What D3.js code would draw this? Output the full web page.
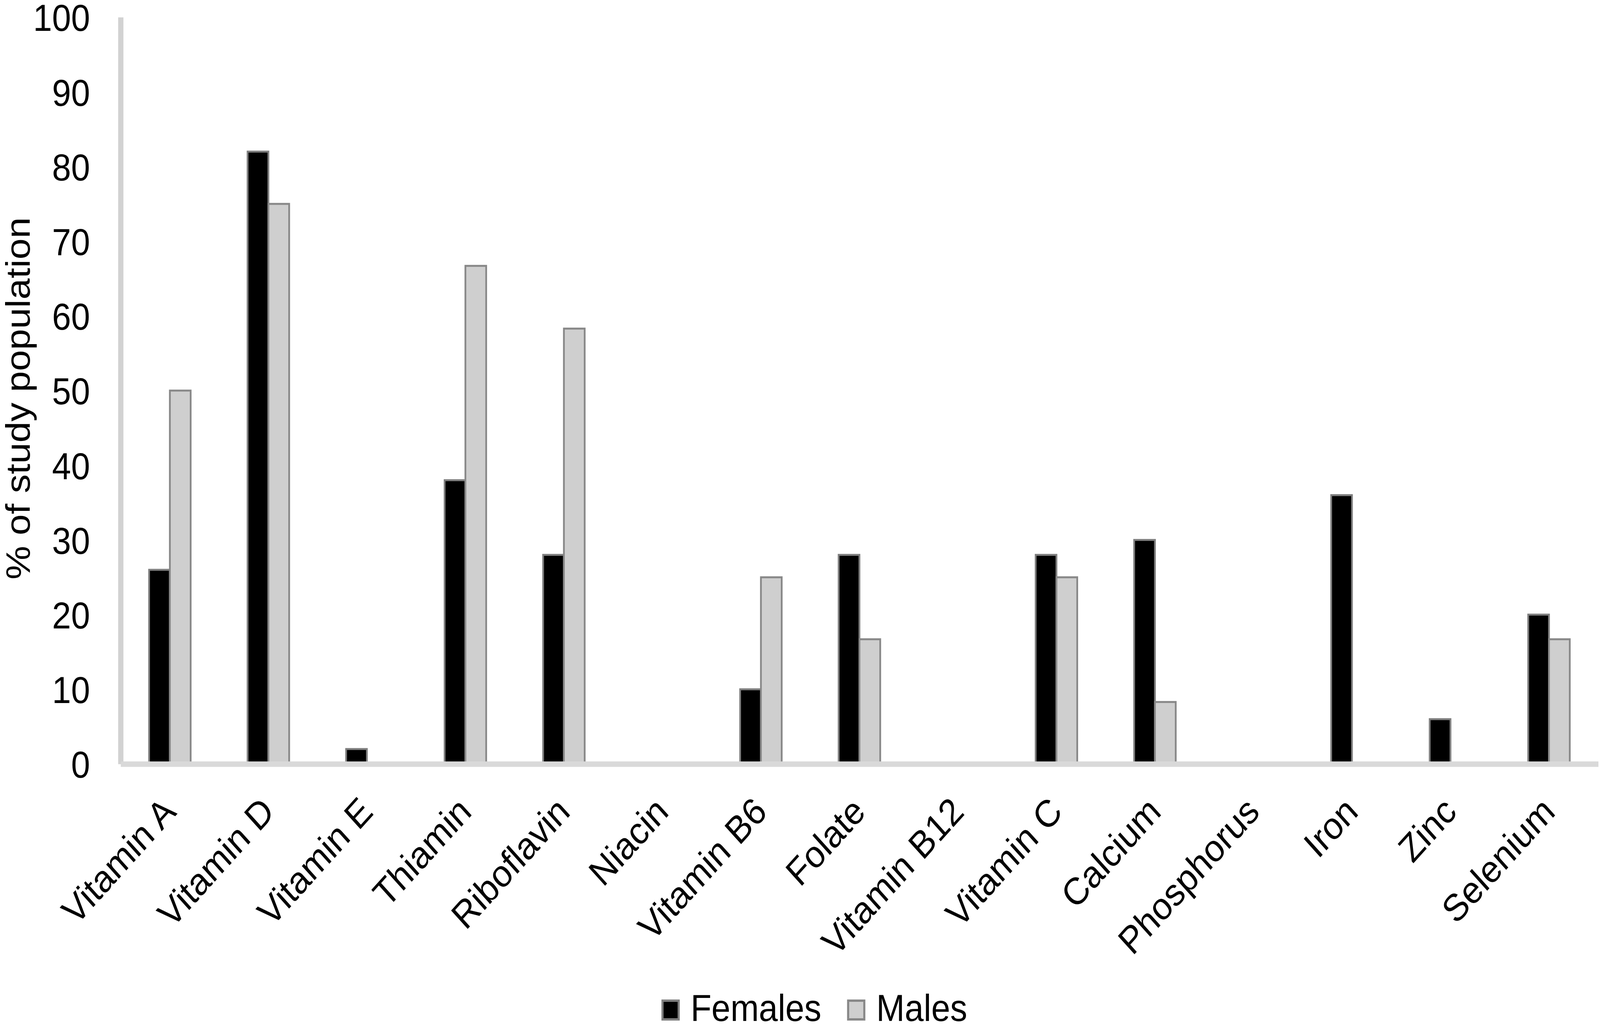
<!DOCTYPE html>
<html>
<head>
<meta charset="utf-8">
<script src="https://cdn.jsdelivr.net/npm/d3@7"></script>
<style>
  html, body { margin: 0; padding: 0; background: #fff; overflow: hidden; }
  #chart svg { display: block; width: 100vw; height: 100vh; }
  text { font-family: "Liberation Sans", Arial, sans-serif; fill: #000; }
</style>
</head>
<body>
<div id="chart"></div>
<script>
// Data
const nutrients = [
  "Vitamin A", "Vitamin D", "Vitamin E", "Thiamin", "Riboflavin", "Niacin",
  "Vitamin B6", "Folate", "Vitamin B12", "Vitamin C", "Calcium", "Phosphorus",
  "Iron", "Zinc", "Selenium"
];
const females = [26, 82, 2, 38, 28, 0, 10, 28, 0, 28, 30, 0, 36, 6, 20];
const males = [50, 75, 0, 66.7, 58.3, 0, 25, 16.7, 0, 25, 8.3, 0, 0, 0, 16.7];
const seriesNames = ["Females", "Males"];
const yTicks = [0, 10, 20, 30, 40, 50, 60, 70, 80, 90, 100];

const width = 4550;
const height = 2632;
const plotLeft = 343, plotRight = 4545, plotTop = 44, plotBottom = 1956;
const fontSize = 97;

const fills = { Females: "#000000", Males: "#cfcfcf" };
const strokes = { Females: "#7f7f7f", Males: "#888888" };

// viewBox so the whole chart fits whatever the viewport is
const svg = d3.select("#chart").append("svg")
  .attr("viewBox", `0 0 ${width} ${height}`)
  .attr("preserveAspectRatio", "none");

const x0 = d3.scaleBand()
  .domain(nutrients)
  .range([plotLeft, plotRight])
  .paddingInner(0.578)
  .paddingOuter(0.289);

const x1 = d3.scaleBand()
  .domain(seriesNames)
  .range([0, x0.bandwidth()]);

const y = d3.scaleLinear().domain([0, 100]).range([plotBottom, plotTop]);

// rows for the bars
const rows = nutrients.map((n, i) => ({ name: n, Females: females[i], Males: males[i] }));

const groups = svg.append("g").selectAll("g")
  .data(rows)
  .join("g")
  .attr("transform", (d) => `translate(${x0(d.name)},0)`);

groups.selectAll("rect")
  .data((d) => seriesNames.map((s) => ({ key: s, value: d[s] })).filter((d) => d.value > 0))
  .join("rect")
  .attr("x", (d) => x1(d.key))
  .attr("y", (d) => y(d.value))
  .attr("width", x1.bandwidth())
  .attr("height", (d) => y(0) - y(d.value))
  .attr("fill", (d) => fills[d.key])
  .attr("stroke", (d) => strokes[d.key])
  .attr("stroke-width", 5);

// Y axis
const yAxis = svg.append("g")
  .attr("transform", `translate(${plotLeft},0)`)
  .call(d3.axisLeft(y).tickValues(yTicks).tickSize(0).tickSizeOuter(0).tickPadding(87));
yAxis.select(".domain").attr("stroke", "#d2d2d2").attr("stroke-width", 15);
yAxis.selectAll("text")
  .style("font-size", fontSize + "px")
  .attr("font-family", null)
  .attr("dy", "0.36em");

// X axis
const xAxis = svg.append("g")
  .attr("transform", `translate(0,${plotBottom})`)
  .call(d3.axisBottom(x0).tickSize(0).tickSizeOuter(0));
xAxis.select(".domain").attr("stroke", "#d9d9d9").attr("stroke-width", 14);
xAxis.selectAll("text")
  .style("font-size", fontSize + "px")
  .attr("font-family", null)
  .attr("x", 0)
  .attr("y", 0)
  .attr("dy", null)
  .attr("text-anchor", "end")
  .attr("transform", "translate(22,127) rotate(-45)");
svg.selectAll(".tick text").attr("fill", "#000");

// Y title
svg.append("text")
  .attr("transform", "translate(84,1020) rotate(-90)")
  .attr("text-anchor", "middle")
  .style("font-size", fontSize + "px")
  .text("% of study population");

// Legend
const legend = svg.append("g");
let lx = 1884;
seriesNames.forEach((s) => {
  legend.append("rect")
    .attr("x", lx)
    .attr("y", 2562)
    .attr("width", 46)
    .attr("height", 48)
    .attr("fill", fills[s])
    .attr("stroke", strokes[s])
    .attr("stroke-width", 6);
  const t = legend.append("text")
    .attr("x", lx + 80)
    .attr("y", 2614)
    .style("font-size", fontSize + "px")
    .text(s);
  lx = lx + 80 + t.node().getComputedTextLength() + 76;
});
</script>
</body>
</html>
